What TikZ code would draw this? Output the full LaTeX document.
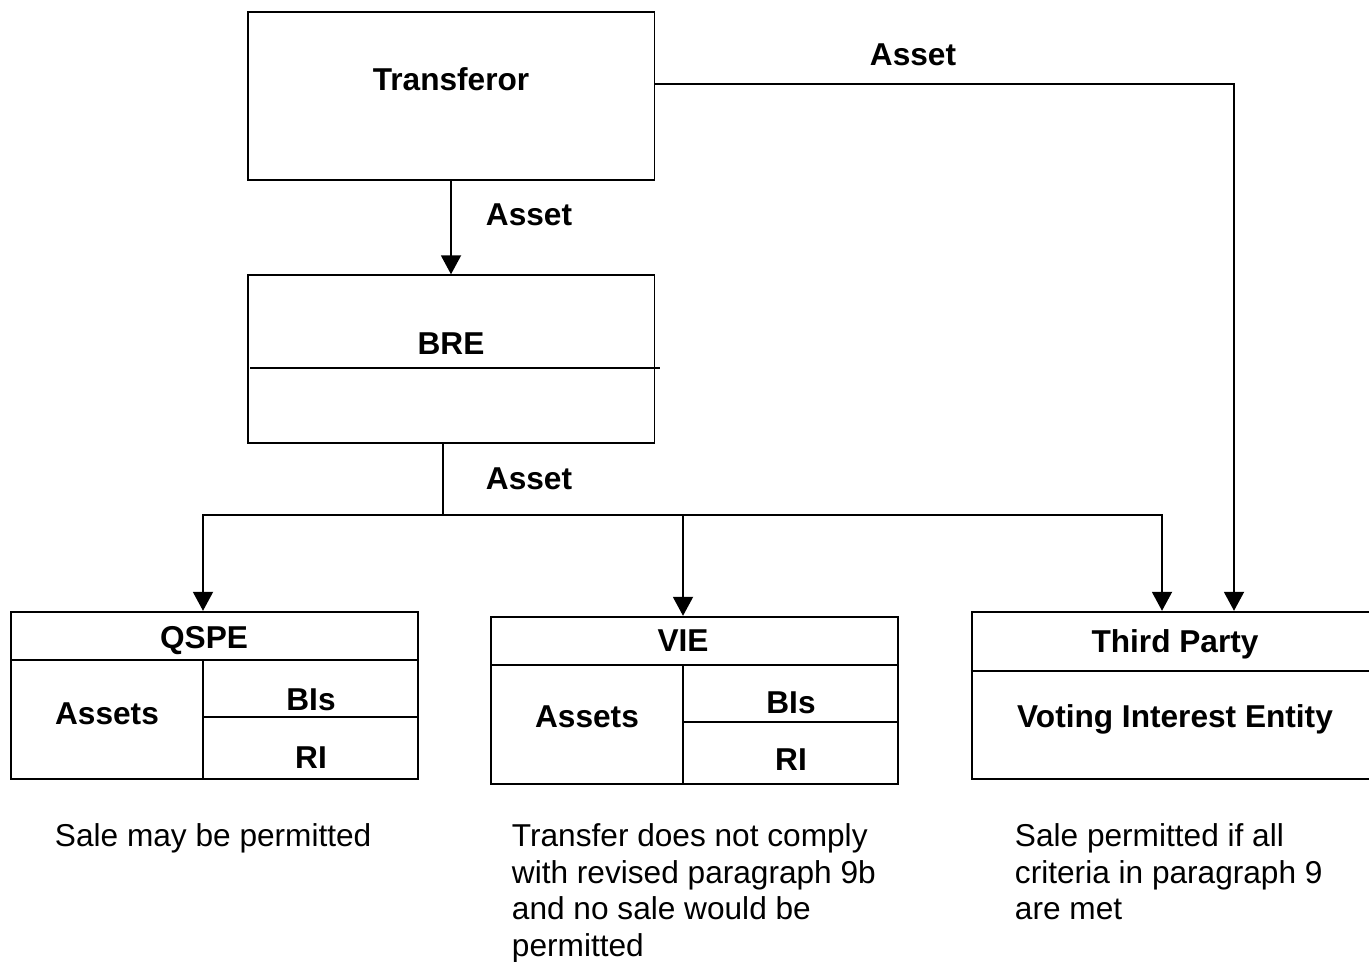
\documentclass[tikz,border=0pt]{standalone}
\usepackage{fontspec}
\setmainfont{Liberation Sans}
\usepackage{tikz}
\usetikzlibrary{arrows.meta, positioning, calc}

\tikzset{
  box/.style={draw, line width=1.1pt, minimum width=8.14cm, minimum height=3.35cm, inner sep=0pt},
  lbl/.style={font=\fontsize{18}{21}\selectfont\bfseries, anchor=base, inner sep=0pt},
  note/.style={font=\fontsize{18}{20.8}\selectfont, align=left, anchor=north west, inner sep=0pt}
}

\begin{document}
\begin{tikzpicture}[x=0.02cm, y=-0.02cm, line width=1.1pt, >={Triangle[length=0.38cm, width=0.4cm]}]
      \useasboundingbox (0, 0) rectangle (1369, 962);

      \node[box] (trf) at (451, 96) {};
      \node[box] (bre) at (451, 359) {};
      \node[box] (qspe) at (214.5, 695.5) {};
      \node[box] (vie) at (694.5, 700.5) {};
      \node[box] (tp) at (1175, 695.5) {};

      \coordinate (corner) at (1234, 84);
      \coordinate (split) at (443, 515);
      \coordinate (qmid) at (203, 660);
      \coordinate (vmid) at (683, 665);

      \draw (250, 368) -- (660, 368);
      \draw (qspe.west |- qmid) -- (qspe.east |- qmid);
      \draw (qmid) -- (qmid |- qspe.south);
      \draw (qmid |- 0, 717) -- (qspe.east |- 0, 717);
      \draw (vie.west |- vmid) -- (vie.east |- vmid);
      \draw (vmid) -- (vmid |- vie.south);
      \draw (vmid |- 0, 722) -- (vie.east |- 0, 722);
      \draw (tp.west |- 0, 671) -- (tp.east |- 0, 671);

      \draw[->] (trf) -- (bre);
      \draw[->] (trf.east |- corner) -- (corner) -- (tp.north -| corner);
      \draw (bre.south -| split) -- (split);
      \draw[->] (split) -| (qspe.north -| qmid);
      \draw[->] (split) -| ([xshift=-0.26cm]tp.north);
      \draw[->] (split -| vmid) -- (vie.north -| vmid);

      \node[lbl] (trfL) at (451, 90.5) {Transferor};
      \node[lbl] (assetA) at (913, 65.5) {Asset};
      \node[lbl] (assetB) at (529, 225.5) {Asset};
      \node[lbl] (breL) at (451, 354.5) {BRE};
      \node[lbl] (assetC) at (529, 489.5) {Asset};

      \node[lbl] (qspeL) at (204, 648.5) {QSPE};
      \node[lbl] (qspeA) at (107, 724.5) {Assets};
      \node[lbl] (qspeB) at (311, 710.5) {BIs};
      \node[lbl] (qspeR) at (311, 768.5) {RI};

      \node[lbl] (vieL) at (683, 651.5) {VIE};
      \node[lbl] (vieA) at (587, 727.5) {Assets};
      \node[lbl] (vieB) at (791, 713.5) {BIs};
      \node[lbl] (vieR) at (791, 770.5) {RI};

      \node[lbl] (tpL) at (1175, 652.5) {Third Party};
      \node[lbl] (tpV) at (1175, 727.5) {Voting Interest Entity};

      \node[note] (noteQ) at (54, 823) {Sale may be permitted};
      \node[note] (noteV) at (511, 823) {Transfer does not comply\\with revised paragraph 9b\\and no sale would be\\permitted};
      \node[note] (noteT) at (1014, 823) {Sale permitted if all\\criteria in paragraph 9\\are met};
    \end{tikzpicture}
\end{document}
